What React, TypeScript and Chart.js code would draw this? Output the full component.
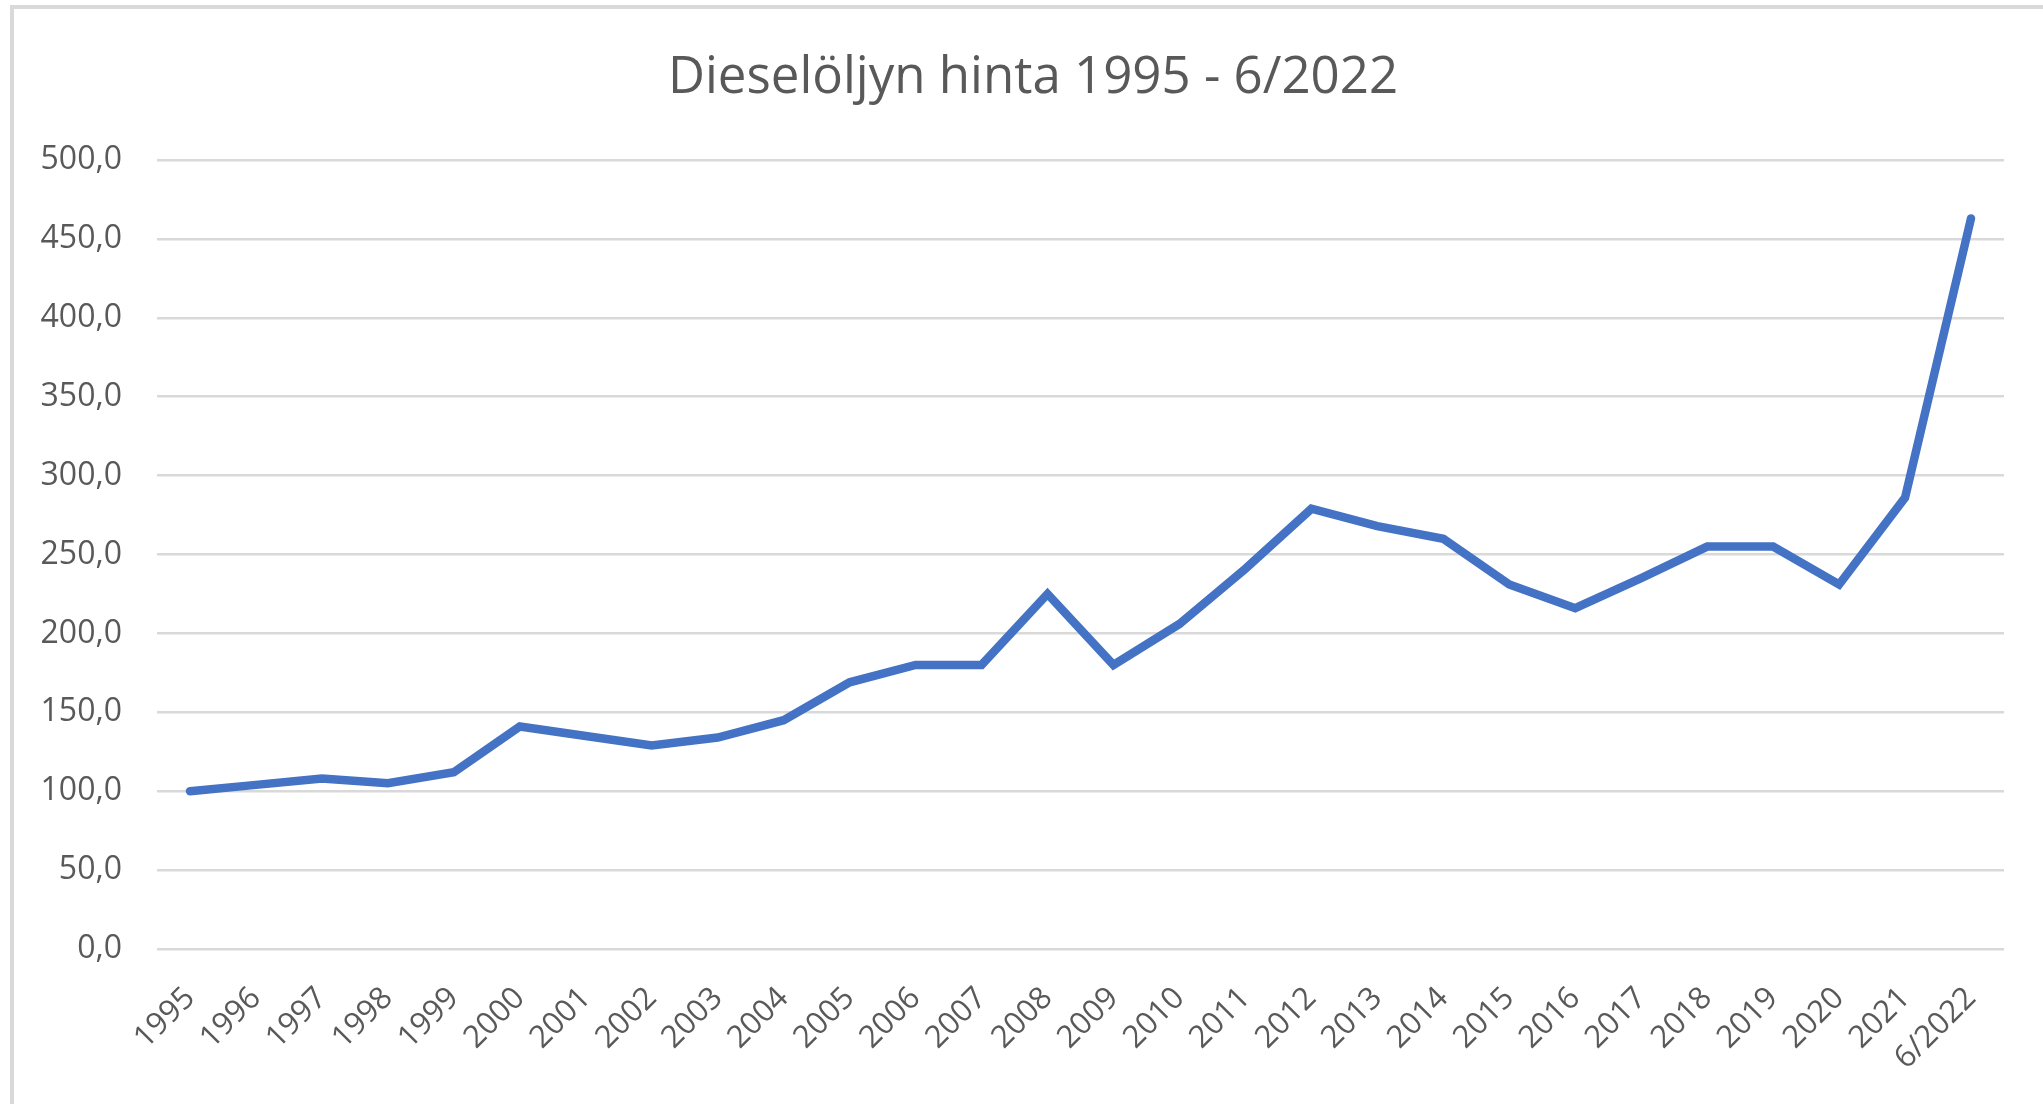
import React, { useEffect, useRef } from "react";
import { Chart, registerables } from "chart.js";

Chart.register(...registerables);

const TITLE = "Dieselöljyn hinta 1995 - 6/2022";

const categories = [
  "1995", "1996", "1997", "1998", "1999", "2000", "2001", "2002", "2003", "2004",
  "2005", "2006", "2007", "2008", "2009", "2010", "2011", "2012", "2013", "2014",
  "2015", "2016", "2017", "2018", "2019", "2020", "2021", "6/2022",
];

const priceIndex = [
  100, 104, 108, 105, 112, 141, 135, 129, 134, 145,
  169, 180, 180, 225, 180, 206, 241, 279, 268, 260,
  231, 216, 235, 255, 255, 231, 286, 463,
];

const yMin = 0;
const yMax = 500;
const yStep = 50;

const W = 2043;
const H = 1104;

const framePlugin = {
  id: "frame",
  beforeDraw(chart: any) {
    const ctx = chart.ctx;
    ctx.save();
    ctx.fillStyle = "#ffffff";
    ctx.fillRect(0, 0, chart.width, chart.height);
    ctx.fillStyle = "#d9d9d9";
    ctx.fillRect(10, 5, 4, chart.height - 5);
    ctx.fillRect(10, 5, chart.width - 10, 4);
    ctx.restore();
  },
  afterDraw(chart: any) {
    const ctx = chart.ctx;
    ctx.save();
    ctx.fillStyle = "#595959";
    ctx.font = "normal 51px 'Open Sans'";
    ctx.textAlign = "center";
    ctx.textBaseline = "alphabetic";
    ctx.fillText(TITLE, 1033, 93);
    ctx.restore();
  },
};

export default function App() {
  const ref = useRef<HTMLCanvasElement | null>(null);

  useEffect(() => {
    if (!ref.current) return;
    const chart = new Chart(ref.current, {
      type: "line",
      data: {
        labels: categories,
        datasets: [
          {
            label: "Dieselöljyn hinta",
            data: priceIndex,
            borderColor: "#4472C4",
            backgroundColor: "#4472C4",
            borderWidth: 8.5,
            pointRadius: 0,
            pointHoverRadius: 0,
            tension: 0,
            borderCapStyle: "round",
            fill: false,
          },
        ],
      },
      options: {
        responsive: false,
        animation: false,
        devicePixelRatio: 1,
        layout: { padding: { left: 0, right: 39, top: 160, bottom: 0 } },
        plugins: {
          legend: { display: false },
          tooltip: { enabled: false },
          title: { display: false },
        },
        scales: {
          x: {
            type: "category",
            offset: true,
            grid: { display: false, drawTicks: false },
            border: { display: false },
            ticks: {
              autoSkip: false,
              maxRotation: 45,
              minRotation: 45,
              padding: 31,
              color: "#595959",
              font: { family: "'Open Sans'", size: 31, lineHeight: 1.2 },
            },
            afterFit(scale: any) {
              scale.height = 155;
            },
          },
          y: {
            min: yMin,
            max: yMax,
            grid: { color: "#d9d9d9", lineWidth: 2.5, drawTicks: false },
            border: { display: false },
            ticks: {
              stepSize: yStep,
              padding: 35,
              color: "#595959",
              font: { family: "'Open Sans'", size: 32, lineHeight: 1.2 },
              callback: (v: any) => Number(v).toFixed(1).replace(".", ","),
            },
            afterFit(scale: any) {
              scale.width = 157;
            },
          },
        },
      },
      plugins: [framePlugin],
    });
    return () => chart.destroy();
  }, []);

  return (
    <div style={{ position: "fixed", left: 0, top: 0, width: W, height: H, overflow: "hidden", background: "#fff" }}>
      <canvas ref={ref} width={W} height={H} style={{ display: "block", width: W, height: H }} />
    </div>
  );
}
